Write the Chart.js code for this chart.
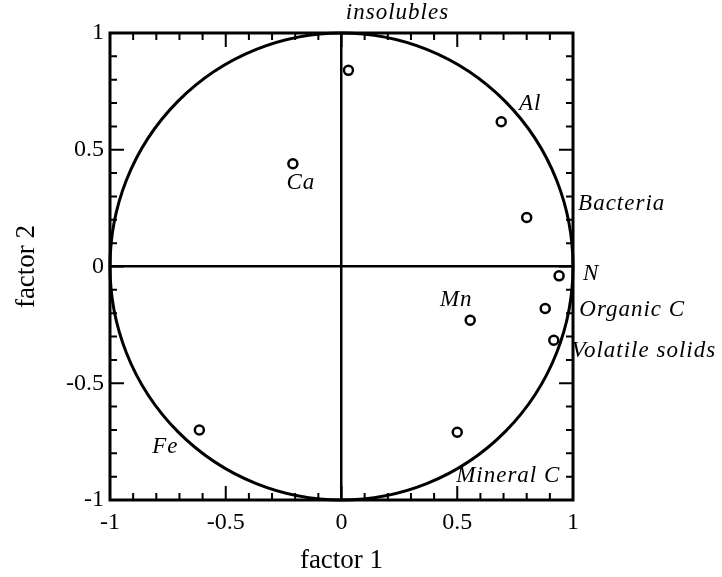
<!DOCTYPE html>
<html>
<head>
<meta charset="utf-8">
<script src="https://cdn.jsdelivr.net/npm/chart.js@4.4.1/dist/chart.umd.min.js"></script>
<style>
  html, body { margin: 0; padding: 0; background: #fff; }
  #wrap { width: 722px; height: 577px; }
</style>
</head>
<body>
<div id="wrap"><canvas id="pcaChart" width="722" height="577"></canvas></div>
<script>
// variable names and factor loadings
const names = ['insolubles', 'Ca', 'Al', 'Bacteria', 'N', 'Organic C', 'Volatile solids', 'Mn', 'Mineral C', 'Fe'];
const factor1 = [0.03, -0.21, 0.69, 0.80, 0.94, 0.88, 0.917, 0.556, 0.50, -0.614];
const factor2 = [0.84, 0.44, 0.62, 0.21, -0.04, -0.18, -0.316, -0.23, -0.71, -0.70];
const tickValues = [-1, -0.5, 0, 0.5, 1];
const tickLabels = ['-1', '-0.5', '0', '0.5', '1'];

// where each name sits relative to its point (px)
const labelOffsets = [[49, -57], [8, 19], [29, -18], [95, -14], [32, -2], [87, 1], [90, 11], [-14, -20], [51, 44], [-34, 17]];

const serif = '"Liberation Serif", "Times New Roman", serif';

// unit circle, frame and inward ticks drawn from the scales
const framePlugin = {
    id: 'frame',
    beforeDatasetsDraw(chart) {
        const { ctx, chartArea: a, scales: { x, y } } = chart;
        const cx = x.getPixelForValue(0), cy = y.getPixelForValue(0);
        const rx = x.getPixelForValue(1) - cx, ry = cy - y.getPixelForValue(1);
        ctx.save();
        ctx.strokeStyle = '#000';
        ctx.lineWidth = 3;
        ctx.beginPath();
        ctx.ellipse(cx, cy, rx, ry, 0, 0, Math.PI * 2);
        ctx.stroke();

        ctx.lineWidth = 3;
        ctx.strokeRect(a.left, a.top, a.right - a.left, a.bottom - a.top);

        ctx.lineWidth = 2;
        for (let i = -10; i <= 10; i++) {
            const v = i / 10;
            const len = (i % 5 === 0) ? 14 : 7;
            const px = x.getPixelForValue(v), py = y.getPixelForValue(v);
            ctx.beginPath();
            ctx.moveTo(px, a.bottom); ctx.lineTo(px, a.bottom - len);
            ctx.moveTo(px, a.top); ctx.lineTo(px, a.top + len);
            ctx.moveTo(a.left, py); ctx.lineTo(a.left + len, py);
            ctx.moveTo(a.right, py); ctx.lineTo(a.right - len, py);
            ctx.stroke();
        }
        ctx.restore();
    },
    afterDatasetsDraw(chart) {
        const { ctx } = chart;
        const meta = chart.getDatasetMeta(0);
        ctx.save();
        ctx.fillStyle = '#000';
        ctx.font = 'italic 23px ' + serif;
        ctx.letterSpacing = '1px';
        ctx.textAlign = 'center';
        ctx.textBaseline = 'middle';
        meta.data.forEach((pt, i) => {
            ctx.fillText(names[i], pt.x + labelOffsets[i][0], pt.y + labelOffsets[i][1]);
        });
        ctx.restore();
    }
};

const zeroLine = c => (c.tick && c.tick.value === 0) ? '#000' : 'rgba(0,0,0,0)';
const tickText = v => tickLabels[tickValues.indexOf(v)];

const ctx = document.getElementById('pcaChart').getContext('2d');
const pcaChart = new Chart(ctx, {
    type: 'scatter',
    data: {
        datasets: [{
            label: 'loadings',
            data: names.map((n, i) => ({ x: factor1[i], y: factor2[i] })),
            pointStyle: 'circle',
            pointRadius: 4.5,
            pointBorderWidth: 2.5,
            pointBorderColor: '#000',
            pointBackgroundColor: '#fff'
        }]
    },
    plugins: [framePlugin],
    options: {
        responsive: false,
        animation: false,
        layout: { padding: { top: 33, right: 149, left: 0, bottom: 0 } },
        plugins: {
            legend: { display: false },
            tooltip: { enabled: false }
        },
        scales: {
            x: {
                type: 'linear',
                min: -1, max: 1,
                afterFit(scale) { scale.height = 77; },
                afterBuildTicks(scale) { scale.ticks = tickValues.map(v => ({ value: v })); },
                ticks: { color: '#000', font: { family: serif, size: 24 }, padding: 8, maxRotation: 0, callback: tickText },
                grid: { drawTicks: false, color: zeroLine, lineWidth: 2.5 },
                border: { display: false },
                title: { display: true, text: 'factor 1', color: '#000', font: { family: serif, size: 27 }, padding: { top: 4, bottom: 0 } }
            },
            y: {
                type: 'linear',
                min: -1, max: 1,
                afterFit(scale) { scale.width = 110; },
                afterBuildTicks(scale) { scale.ticks = tickValues.map(v => ({ value: v })); },
                ticks: { color: '#000', font: { family: serif, size: 24 }, padding: 6, callback: tickText },
                grid: { drawTicks: false, color: zeroLine, lineWidth: 2.5 },
                border: { display: false },
                title: { display: true, text: 'factor 2', color: '#000', font: { family: serif, size: 27 }, padding: { top: 11, bottom: 4 } }
            }
        }
    }
});
</script>
</body>
</html>
